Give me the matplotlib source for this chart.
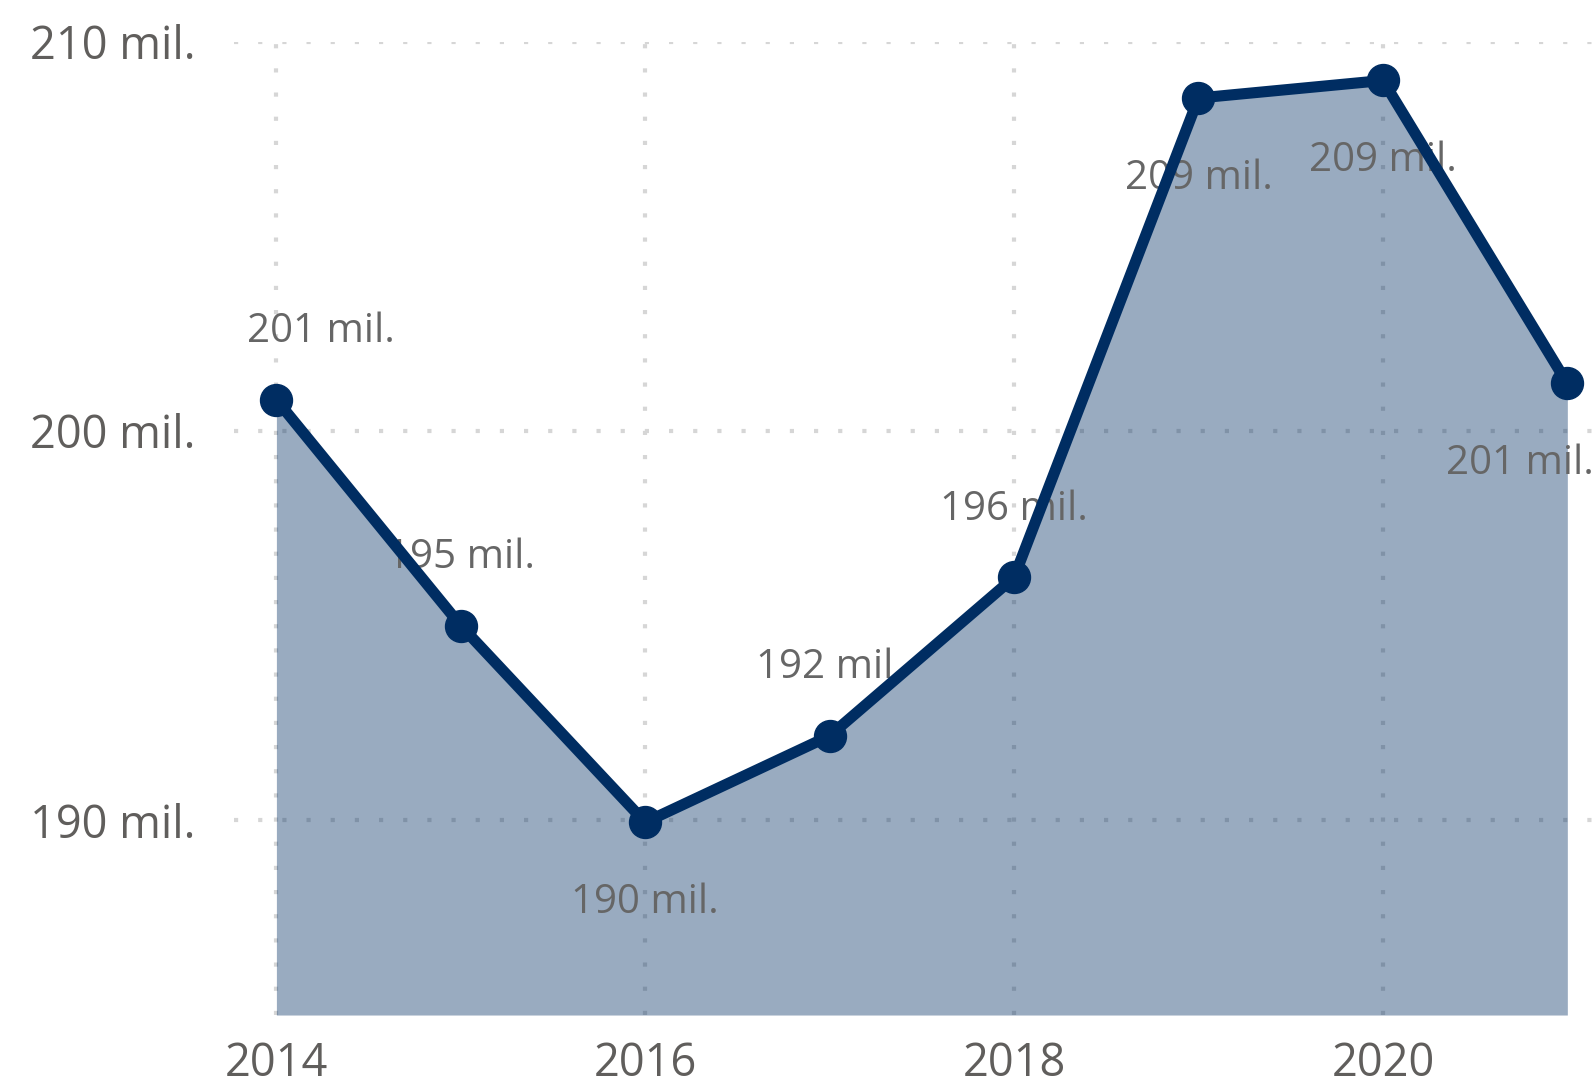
import matplotlib.pyplot as plt
from matplotlib.ticker import FuncFormatter, MultipleLocator

# values (millions)
years = [2014, 2015, 2016, 2017, 2018, 2019, 2020, 2021]
values = [200.8, 195.0, 189.95, 192.17, 196.24, 208.55, 209.0, 201.22]
labels = ["201 mil.", "195 mil.", "190 mil.", "192 mil.", "196 mil.", "209 mil.", "209 mil.", "201 mil."]
# label above (+1) or below (-1) the point, plus a sideways nudge in points
label_side = [1, 1, -1, 1, 1, -1, -1, -1]
label_nudge = [32, 0, 0, 0, 0, 0, 0, -34]

navy = "#002D62"
text_grey = "#605E5C"
label_grey = "#666666"

plt.rcParams['font.family'] = ['Open Sans', 'DejaVu Sans']

fig = plt.figure(figsize=(15.95, 10.82), dpi=100)
ax = fig.add_axes([0.1467, 0.0619, 0.8533, 0.8997])

# grid first so the fill sits over it
ax.grid(True, which='major', color='#D6D6D6', linewidth=3.0, linestyle=(0, (1, 4.8)), zorder=0)
ax.set_axisbelow(True)

ax.fill_between(years, values, 185, color=navy, alpha=0.4, linewidth=0, zorder=1)

for x, y, txt, side, dx in zip(years, values, labels, label_side, label_nudge):
	dy = 49 if side > 0 else -58
	ax.annotate(txt, (x, y), xytext=(dx, dy), textcoords='offset points',
		ha='center', va='center', fontsize=29, color=label_grey, zorder=2, annotation_clip=False)

ax.plot(years, values, color=navy, linewidth=8.0, marker='o', markersize=23,
	solid_joinstyle='round', zorder=3, clip_on=False)

ax.set_xlim(2013.77, 2021.15)
ax.set_ylim(185, 210)
ax.xaxis.set_major_locator(MultipleLocator(2))
ax.set_yticks([190, 200, 210])
ax.yaxis.set_major_formatter(FuncFormatter(lambda v, p: f"{v:.0f} mil."))
ax.xaxis.set_major_formatter(FuncFormatter(lambda v, p: f"{v:.0f}"))

for s in ax.spines.values():
	s.set_visible(False)
ax.tick_params(axis='both', length=0, labelsize=32.5, labelcolor=text_grey)
ax.tick_params(axis='y', pad=28)
ax.tick_params(axis='x', pad=19)

fig.savefig('out.png', dpi=100)
